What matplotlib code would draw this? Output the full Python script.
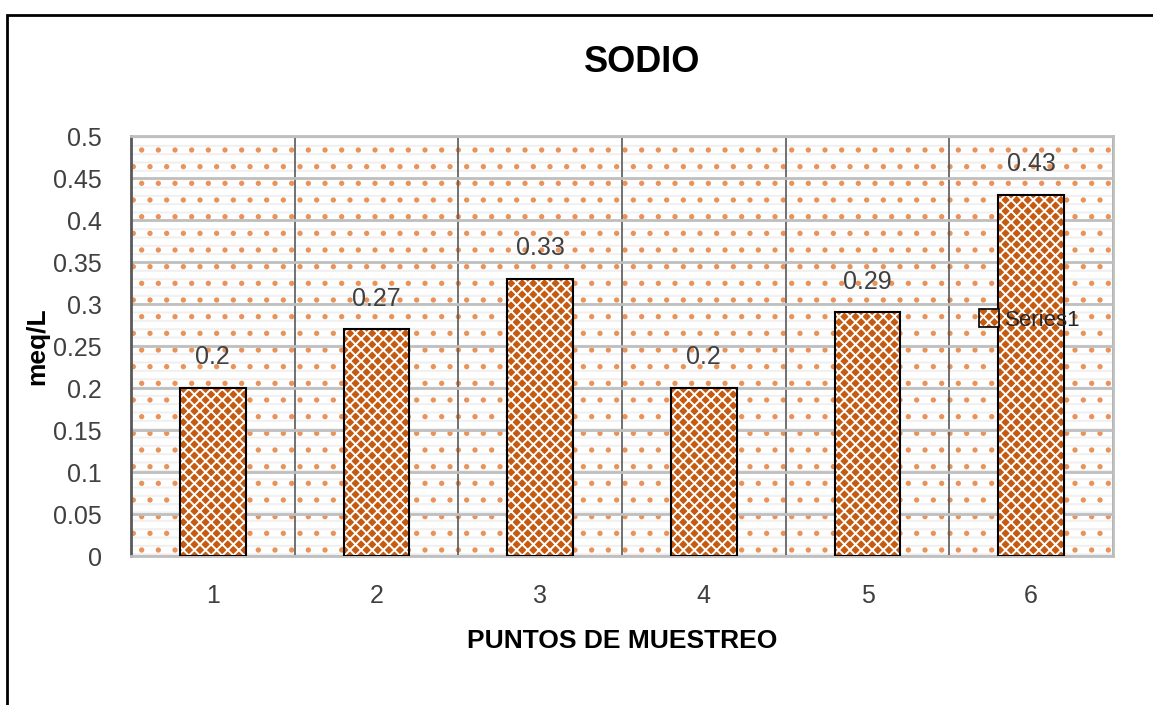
import matplotlib
matplotlib.use("Agg")
import matplotlib.pyplot as plt
from matplotlib.patches import Rectangle, Patch
from matplotlib.legend_handler import HandlerTuple
import numpy as np

puntos = [1, 2, 3, 4, 5, 6]
sodio = [0.2, 0.27, 0.33, 0.2, 0.29, 0.43]
y_ticks = [0, 0.05, 0.1, 0.15, 0.2, 0.25, 0.3, 0.35, 0.4, 0.45, 0.5]
y_labels = ["0", "0.05", "0.1", "0.15", "0.2", "0.25", "0.3", "0.35", "0.4", "0.45", "0.5"]
serie = "Series1"

naranja = "#c55a11"
plt.rcParams['font.family'] = ['Liberation Sans', 'DejaVu Sans']
plt.rcParams['hatch.linewidth'] = 1.4

fig = plt.figure(figsize=(11.53, 7.05), dpi=100)
ax = fig.add_axes([131 / 1153, 1 - 556 / 705, 982 / 1153, 420 / 705])

# fondo: rayas grises + puntos naranjas
ax.add_patch(Rectangle((0, 0), 1, 1, transform=ax.transAxes, facecolor="white",
                       edgecolor="#f0f0f0", hatch="--", linewidth=0, zorder=0))
ax.add_patch(Rectangle((0, 0), 1, 1, transform=ax.transAxes, facecolor="none",
                       edgecolor="#e8935a", hatch=".", linewidth=0, zorder=0.1))

# barras con trama
b1 = ax.bar(puntos, sodio, width=0.4, color=naranja, edgecolor="white",
            hatch="xxx", linewidth=0, zorder=3)
b2 = ax.bar(puntos, sodio, width=0.4, color="none", edgecolor="black",
            linewidth=1.5, zorder=4)

for x, v in zip(puntos, sodio):
    ax.annotate(f"{v:g}", (x, v), xytext=(0, 22), textcoords="offset points",
                ha="center", va="center", fontsize=18, color="#404040")

ax.set_xlim(0.5, 6.5)
ax.set_ylim(0, 0.5)
ax.set_yticks(y_ticks)
ax.set_yticklabels(y_labels)
ax.set_xticks(puntos)
ax.set_xticks(np.arange(0.5, 7, 1), minor=True)
ax.tick_params(axis="both", which="both", length=0, labelsize=18, labelcolor="#404040")
ax.tick_params(axis="y", pad=21)
ax.tick_params(axis="x", pad=20)
ax.yaxis.grid(True, color="#bfbfbf", linewidth=2, zorder=1)
ax.xaxis.grid(True, which="minor", color="#595959", linewidth=1.2, zorder=1)
ax.set_axisbelow(True)
for lado in ["top", "right", "bottom"]:
    ax.spines[lado].set_color("#bfbfbf")
    ax.spines[lado].set_linewidth(2)
ax.spines["left"].set_color("#595959")
ax.spines["left"].set_linewidth(2)

ax.set_xlabel("PUNTOS DE MUESTREO", fontsize=19, fontweight="bold", labelpad=15)
ax.set_ylabel("meq/L", fontsize=19, fontweight="bold", labelpad=3)
fig.text(642 / 1153, 1 - 63 / 705, "SODIO", fontsize=26, fontweight="bold",
         ha="center", va="center")

h1 = Patch(facecolor=naranja, edgecolor="white", hatch="xxx", linewidth=0)
h2 = Patch(facecolor="none", edgecolor="black", linewidth=1.2)
ax.legend([(h1, h2)], [serie], handler_map={tuple: HandlerTuple(ndivide=1)},
          loc="center left", bbox_to_anchor=(0.852, 0.562), frameon=False,
          fontsize=16, handlelength=0.9, handleheight=0.9, handletextpad=0.3,
          borderpad=0, labelcolor="#262626")

# marco del area del grafico
fig.add_artist(Rectangle((7 / 1153, -0.2), 1.2, 1.2 - 15 / 705, transform=fig.transFigure,
                         facecolor="none", edgecolor="black", linewidth=2, clip_on=False))

fig.savefig("out.png", dpi=100)
